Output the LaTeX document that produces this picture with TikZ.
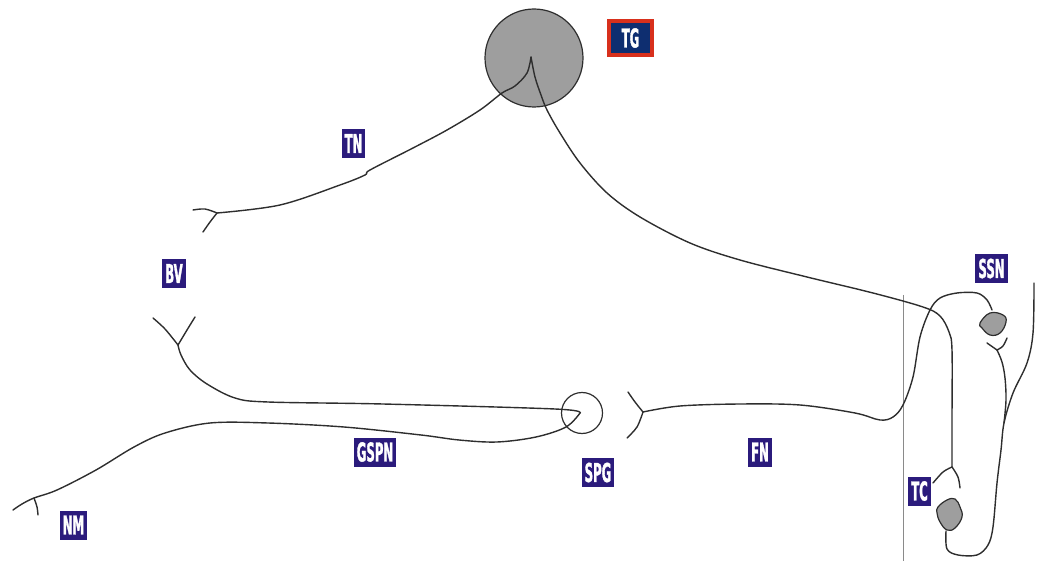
\documentclass[tikz,border=0pt]{standalone}
\usepackage{fontspec}
\newfontfamily\labfont{DejaVu Sans}[FakeStretch=0.45, FakeBold=1.2]
\definecolor{nervecol}{HTML}{2E2E2E}
\definecolor{gangfill}{HTML}{9E9E9E}
\definecolor{labcol}{HTML}{2B1B7C}
\definecolor{tgblue}{HTML}{0E2E70}
\definecolor{tgred}{HTML}{D8301C}
\definecolor{guide}{HTML}{8A8A8A}
\begin{document}
\begin{tikzpicture}[x=1pt,y=-1pt,
  nerve/.style={draw=nervecol, line width=1.4pt, line cap=round, line join=round},
  ganglion/.style={draw=nervecol, line width=1.2pt, fill=gangfill},
  labtext/.style={text=white, font=\labfont\bfseries\fontsize{26}{26}\selectfont},
  lbl/.style={labtext, fill=labcol, inner xsep=3pt, inner ysep=0pt, minimum height=29pt},
  smoothpath/.style={smooth, tension=0.55}]
\useasboundingbox (0,0) rectangle (1044,561);

% ganglia
\node[ganglion, circle, minimum size=98pt, inner sep=0pt] (tg) at (534,58) {};
\node[circle, draw=nervecol, line width=1.2pt, minimum size=41pt, inner sep=0pt] (spg) at (582,413) {};
\draw[ganglion] plot[smooth cycle, tension=0.7] coordinates
  {(980,323) (990,313) (1003,315) (1006,322) (1000,333) (990,335) (982,328)};
\coordinate (ssn) at (992,310);
\draw[ganglion] plot[smooth cycle, tension=0.7] coordinates
  {(938,507) (947,500) (955,499) (960,507) (962,517) (955,528) (947,530) (940,522) (937,513)};
\coordinate (tc) at (946,531);

% key points of the nerves
\coordinate (tgroot) at (531,57);
\coordinate (spgroot) at (580,413);
\coordinate (tnfork) at (217,213);
\coordinate (bvfork) at (178,345);
\coordinate (nmfork) at (34,498);
\coordinate (fnfork) at (643,412);
\coordinate (tcfork) at (952,467);
\coordinate (ssnfork) at (997,350);
\coordinate (join) at (1004,423);

% vertical guide line
\draw[guide, line width=0.9pt] (903,295) -- (903,561);

% trigeminal nerve (TN) and its terminal fork
\draw[nerve] plot[smoothpath] coordinates
  {(tgroot) (527,73) (515,86) (502,93) (480,110) (447,130) (413,148) (370,170) (365,175)
   (340,185) (280,205) (tnfork)};
\draw[nerve] plot[smoothpath] coordinates {(tnfork) (205,209) (193,210)};
\draw[nerve] plot[smoothpath] coordinates {(tnfork) (210,222) (203,232)};

% long branch from the trigeminal ganglion down to the tympanic chord
\draw[nerve] plot[smoothpath] coordinates
  {(tgroot) (535,77) (541,95) (547,110) (560,133) (580,163) (607,193) (640,217) (690,243)
   (740,260) (807,277) (873,293) (923,307) (940,316) (949,332) (952,350) (952,420) (tcfork)};
\draw[nerve] plot[smoothpath] coordinates {(tcfork) (943,472) (933,483)};
\draw[nerve] plot[smoothpath] coordinates {(tcfork) (958,477) (960,488)};

% blood vessel branch to the sphenopalatine ganglion
\draw[nerve] plot[smoothpath] coordinates {(153,318) (165,329) (bvfork)};
\draw[nerve] plot[smoothpath] coordinates {(195,317) (187,330) (bvfork)};
\draw[nerve] plot[smoothpath] coordinates
  {(bvfork) (181,355) (190,370) (207,384) (235,398) (268,402) (383,404) (555,409) (spgroot)};

% greater superficial petrosal nerve (GSPN) to the nasal mucosa
\draw[nerve] plot[smoothpath] coordinates
  {(spgroot) (566,427) (536,437) (497,442) (459,440) (421,435) (344,427) (268,423) (210,423)
   (165,433) (134,447) (96,470) (57,490) (nmfork) (22,504) (13,510)};
\draw[nerve] plot[smoothpath] coordinates {(nmfork) (37,507) (38,515)};

% facial nerve (FN) to the superior salivatory nucleus
\draw[nerve] plot[smoothpath] coordinates {(628,392) (635,402) (fnfork)};
\draw[nerve] plot[smoothpath] coordinates {(fnfork) (637,427) (627,438)};
\draw[nerve] plot[smoothpath] coordinates
  {(fnfork) (680,406) (740,404) (800,405) (855,413) (880,420) (893,417) (903,405) (913,377)
   (920,337) (930,310) (940,298) (957,293) (977,293) (987,300) (ssn)};

% SSN output fork and the outer loop to the tympanic chord ganglion
\draw[nerve] plot[smoothpath] coordinates {(987,343) (ssnfork)};
\draw[nerve] plot[smoothpath] coordinates {(1007,338) (1003,346) (ssnfork)};
\draw[nerve] plot[smoothpath] coordinates
  {(ssnfork) (1002,362) (1005,378) (1006,400) (join)};
\draw[nerve] plot[smoothpath] coordinates
  {(1034,283) (1033,333) (1027,363) (1013,393) (join) (1001,450) (997,483) (993,527)
   (988,545) (977,555) (958,555) (947,549) (tc)};

% labels
\node[labtext, draw=tgred, line width=4pt, fill=tgblue,
  minimum width=43pt, minimum height=34pt, inner sep=0pt] (tglabel) at (630.5,38) {TG};
\node[lbl] (tnl) at (353.5,143.5) {TN};
\node[lbl] (bvl) at (174,273.5) {BV};
\node[lbl] (spgl) at (598,472.5) {SPG};
\node[lbl] (nml) at (73.5,525) {NM};
\node[lbl] (gspnl) at (375,452) {GSPN};
\node[lbl] (fnl) at (760,452) {FN};
\node[lbl] (ssnl) at (991.5,268.5) {SSN};
\node[lbl] (tcl) at (919.5,491) {TC};
\end{tikzpicture}
\end{document}
